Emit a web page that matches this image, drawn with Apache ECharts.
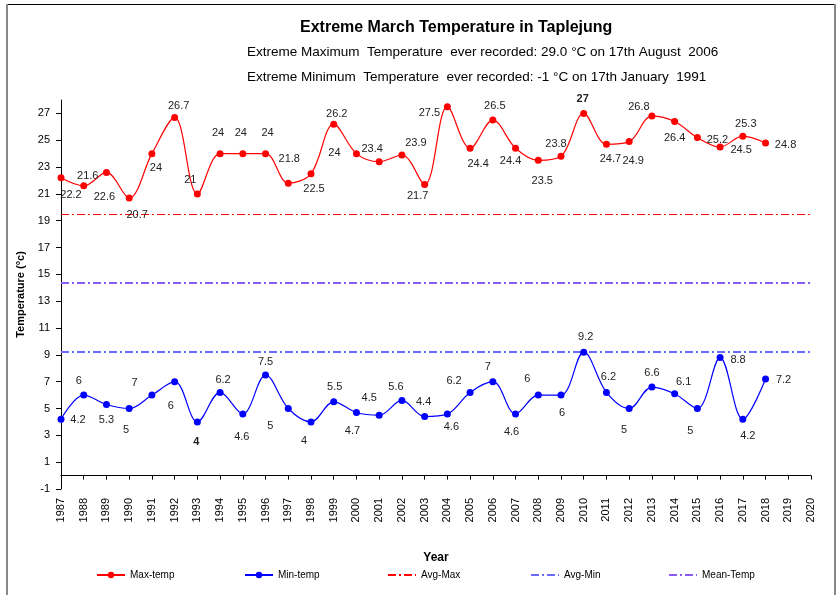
<!DOCTYPE html>
<html>
<head>
<meta charset="utf-8">
<script src="https://cdn.jsdelivr.net/npm/echarts@6/dist/echarts.min.js"></script>
<style>
  html, body { margin: 0; padding: 0; background: #fff; }
  #main { width: 840px; height: 595px; }
</style>
</head>
<body>
<div id="main"></div>
<script>
// years on the x axis
var years = ['1987', '1988', '1989', '1990', '1991', '1992', '1993', '1994', '1995', '1996',
  '1997', '1998', '1999', '2000', '2001', '2002', '2003', '2004', '2005', '2006', '2007',
  '2008', '2009', '2010', '2011', '2012', '2013', '2014', '2015', '2016', '2017', '2018',
  '2019', '2020'];

// extreme march max / min temps (1987 - 2018)
var maxTemp = [22.2, 21.6, 22.6, 20.7, 24, 26.7, 21, 24, 24, 24, 21.8, 22.5, 26.2, 24, 23.4,
  23.9, 21.7, 27.5, 24.4, 26.5, 24.4, 23.5, 23.8, 27, 24.7, 24.9, 26.8, 26.4, 25.2, 24.5,
  25.3, 24.8];
var minTemp = [4.2, 6, 5.3, 5, 6, 7, 4, 6.2, 4.6, 7.5, 5, 4, 5.5, 4.7, 4.5, 5.6, 4.4, 4.6,
  6.2, 7, 4.6, 6, 6, 9.2, 6.2, 5, 6.6, 6.1, 5, 8.8, 4.2, 7.2];

// reference lines
var avgMax = 19.45;
var avgMin = 9.25;
var meanTemp = 14.35;

// label placement (px, relative to the point) - mimics the hand placed excel labels
var maxLabelOff = [[10, 17], [4, -10], [-2, 25], [8, 17], [4, 14], [4, -11], [-7, -14],
  [-2, -21], [-2, -21], [2, -21], [1, -24], [3, 15], [3, -10], [-22, -1], [-7, -13],
  [14, -12], [-7, 11], [-18, 6], [8, 16], [2, -14], [-5, 13], [4, 21], [-5, -12], [-1, -14],
  [4, 15], [4, 19], [-13, -9], [0, 17], [20, 2], [21, 3], [3, -12], [20, 2]];
var minLabelOff = [[17, 1], [-5, -14], [0, 15], [-3, 21], [19, 11], [-40, 1], [-1, 20],
  [3, -12], [-1, 23], [0, -13], [-18, 17], [-7, 19], [1, -15], [-4, 18], [-10, -17],
  [-6, -14], [-1, -15], [4, 13], [-16, -11], [-5, -15], [-4, 18], [-11, -16], [1, 18],
  [2, -15], [2, -15], [-5, 21], [0, -14], [9, -12], [-7, 22], [18, 2], [5, 17], [18, 1]];
var maxBold = 23; // 2010
var minBold = 6;  // 1993

var FONT = '"Liberation Sans", Arial, sans-serif';

function pointData(vals, offs, boldIdx) {
  return vals.map(function (v, i) {
    return {
      value: v,
      label: {
        offset: offs[i],
        fontWeight: i === boldIdx ? 'bold' : 'normal'
      }
    };
  });
}

var chart = echarts.init(document.getElementById('main'));

var legendLefts = [96, 244, 387, 530, 668];
var legendNames = ['Max-temp', 'Min-temp', 'Avg-Max', 'Avg-Min', 'Mean-Temp'];

var option = {
  backgroundColor: '#fff',
  animation: false,
  textStyle: { fontFamily: FONT },
  title: [
    {
      text: 'Extreme March Temperature in Taplejung',
      left: 300, top: 20, padding: 0,
      textStyle: { fontFamily: FONT, fontSize: 16, fontWeight: 'bold', color: '#000' }
    },
    {
      text: 'Extreme Maximum  Temperature  ever recorded: 29.0 °C on 17th August  2006',
      left: 247, top: 45, padding: 0,
      textStyle: { fontFamily: FONT, fontSize: 13.5, fontWeight: 'normal', color: '#000' }
    },
    {
      text: 'Extreme Minimum  Temperature  ever recorded: -1 °C on 17th January  1991',
      left: 247, top: 70, padding: 0,
      textStyle: { fontFamily: FONT, fontSize: 13.5, fontWeight: 'normal', color: '#000' }
    }
  ],
  legend: legendNames.map(function (n, i) {
    var lg = {
      data: [n],
      left: legendLefts[i],
      top: 570,
      padding: 0,
      itemWidth: 28,
      itemHeight: 8,
      textStyle: { fontFamily: FONT, fontSize: 10, color: '#000' }
    };
    // reference lines: line only, no marker
    if (i > 1) lg.itemStyle = { opacity: 0 };
    return lg;
  }),
  grid: { left: 61, right: 29, top: 100, bottom: 106 },
  xAxis: {
    type: 'category',
    data: years,
    boundaryGap: false,
    name: 'Year',
    nameLocation: 'middle',
    nameGap: 63,
    nameTextStyle: { fontFamily: FONT, fontSize: 12, fontWeight: 'bold', color: '#000' },
    axisLine: { lineStyle: { color: '#000', width: 1 } },
    axisTick: { show: true, length: 4, lineStyle: { color: '#000' }, interval: 0 },
    axisLabel: { interval: 0, rotate: 90, fontSize: 11, color: '#000', margin: 9, fontFamily: FONT },
    splitLine: { show: false }
  },
  yAxis: {
    type: 'value',
    min: -1,
    max: 28,
    interval: 2,
    name: 'Temperature (°c)',
    nameLocation: 'middle',
    nameRotate: 90,
    nameGap: 35,
    nameTextStyle: { fontFamily: FONT, fontSize: 11, fontWeight: 'bold', color: '#000' },
    axisLine: { show: true, lineStyle: { color: '#000', width: 1 } },
    axisTick: { show: true, length: 5, lineStyle: { color: '#000' } },
    axisLabel: { fontSize: 11, color: '#000', margin: 11, fontFamily: FONT, showMaxLabel: false },
    splitLine: { show: false }
  },
  series: [
    {
      name: 'Max-temp',
      type: 'line',
      data: pointData(maxTemp, maxLabelOff, maxBold),
      smooth: 0.35,
      symbol: 'circle',
      symbolSize: 7,
      color: '#ff0000',
      lineStyle: { color: '#ff0000', width: 1.2 },
      itemStyle: { color: '#ff0000' },
      label: {
        show: true, position: 'inside', fontSize: 11, color: '#222', fontFamily: FONT
      },
      z: 5
    },
    {
      name: 'Min-temp',
      type: 'line',
      data: pointData(minTemp, minLabelOff, minBold),
      smooth: 0.35,
      symbol: 'circle',
      symbolSize: 7,
      color: '#0000ff',
      lineStyle: { color: '#0000ff', width: 1.2 },
      itemStyle: { color: '#0000ff' },
      label: {
        show: true, position: 'inside', fontSize: 11, color: '#222', fontFamily: FONT
      },
      z: 5
    },
    {
      name: 'Avg-Max',
      type: 'line',
      data: [],
      symbol: 'none',
      color: '#ff0000',
      lineStyle: { color: '#ff0000', width: 1.2, type: [8, 3, 2, 3] },
      markLine: {
        silent: true, symbol: 'none', label: { show: false },
        lineStyle: { color: '#ff0000', width: 1.2, type: [8, 3, 2, 3] },
        data: [{ yAxis: avgMax }]
      }
    },
    {
      name: 'Avg-Min',
      type: 'line',
      data: [],
      symbol: 'none',
      color: '#6b6bff',
      lineStyle: { color: '#6b6bff', width: 2, type: [8, 3, 2, 3] },
      markLine: {
        silent: true, symbol: 'none', label: { show: false },
        lineStyle: { color: '#6b6bff', width: 2, type: [8, 3, 2, 3] },
        data: [{ yAxis: avgMin }]
      }
    },
    {
      name: 'Mean-Temp',
      type: 'line',
      data: [],
      symbol: 'none',
      color: '#8a5cf6',
      lineStyle: { color: '#8a5cf6', width: 2, type: [8, 3, 2, 3] },
      markLine: {
        silent: true, symbol: 'none', label: { show: false },
        lineStyle: { color: '#8a5cf6', width: 2, type: [8, 3, 2, 3] },
        data: [{ yAxis: meanTemp }]
      }
    }
  ],
  // outer chart frame
  graphic: [
    { type: 'line', shape: { x1: 6, y1: 4.5, x2: 836, y2: 4.5 }, style: { stroke: '#000', lineWidth: 1 } },
    { type: 'rect', shape: { x: 6, y: 4, width: 2, height: 591 }, style: { fill: '#888' } },
    { type: 'rect', shape: { x: 834, y: 4, width: 2, height: 591 }, style: { fill: '#888' } }
  ]
};

chart.setOption(option);
</script>
</body>
</html>
